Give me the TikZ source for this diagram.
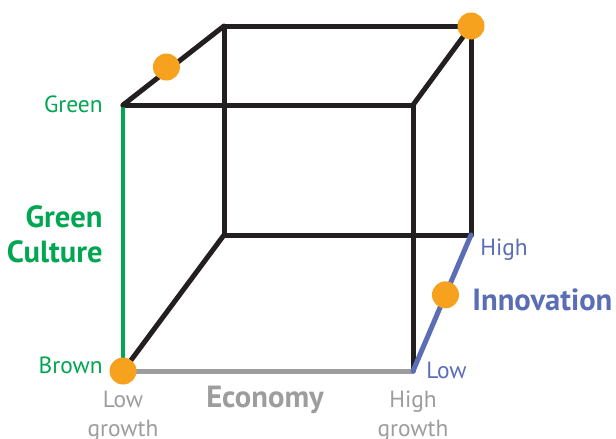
\documentclass[tikz,border=0pt]{standalone}
\usepackage{fontspec}
\setmainfont{PT Sans}
\definecolor{ink}{RGB}{35,31,32}
\definecolor{culturegreen}{RGB}{0,166,81}
\definecolor{innoblue}{RGB}{91,110,181}
\definecolor{econgray}{RGB}{157,157,157}
\definecolor{dotorange}{RGB}{247,162,30}

\begin{document}
\begin{tikzpicture}[x=0.5pt, y=-0.5pt,
    edge/.style={line width=2.5pt, line cap=round, line join=round},
    dot/.style={circle, fill=dotorange, inner sep=0pt, minimum size=13.5pt},
    tick/.style={font=\fontsize{11.7}{14.5}\selectfont, inner sep=0pt},
    axis/.style={font=\bfseries\fontsize{15.3}{17.5}\selectfont, inner sep=0pt}]
  \fill[white] (0,0) rectangle (616,439);
  \useasboundingbox (0,0) rectangle (616,439);
  % cube corners, front face and back face
  \coordinate (flt) at (123,105);
  \coordinate (frt) at (413,105);
  \coordinate (frb) at (413,371);
  \coordinate (flb) at (123,371);
  \coordinate (blt) at (224,26);
  \coordinate (brt) at (471,26);
  \coordinate (brb) at (471,235);
  \coordinate (blb) at (224,235);
  % hidden and back edges
  \draw[edge, ink] (blt) -- (brt) -- (brb) -- (blb) -- cycle;
  \draw[edge, ink] (flb) -- (blb);
  \draw[edge, ink] (frt) -- (brt);
  % front face
  \draw[edge, ink] (flt) -- (frt) -- (frb);
  \draw[edge, econgray] (flb) -- (frb);
  \draw[edge, culturegreen, line width=2pt] (flb) -- (flt);
  \draw[edge, innoblue] (frb) -- node[dot, pos=0.56] (dinno) {} (brb);
  \draw[edge, ink] (flt) -- node[dot, pos=0.43, yshift=2pt] (dtop) {} (blt);
  \node[dot] (dback) at (brt) {};
  \node[dot] (dorigin) at (flb) {};
  % green culture axis
  \node[tick, anchor=east, text=culturegreen] (greenhi) at (103,104) {Green};
  \node[tick, anchor=east, text=culturegreen] (greenlo) at (103,365) {Brown};
  \node[axis, anchor=east, text=culturegreen, align=right] (greenax) at (103,234) {Green\\Culture};
  % economy axis
  \node[tick, anchor=north, text=econgray, align=center] (econlo) at (123,391) {Low\\growth};
  \node[tick, anchor=north, text=econgray, align=center] (econhi) at (413,391) {High\\growth};
  \node[axis, text=econgray] (econax) at (265,400) {Economy};
  % innovation axis
  \node[tick, anchor=west, text=innoblue] (innohi) at (480,250) {High};
  \node[tick, anchor=west, text=innoblue] (innolo) at (426,370) {Low};
  \node[axis, anchor=west, text=innoblue] (innoax) at (472,300) {Innovation};
\end{tikzpicture}
\end{document}
